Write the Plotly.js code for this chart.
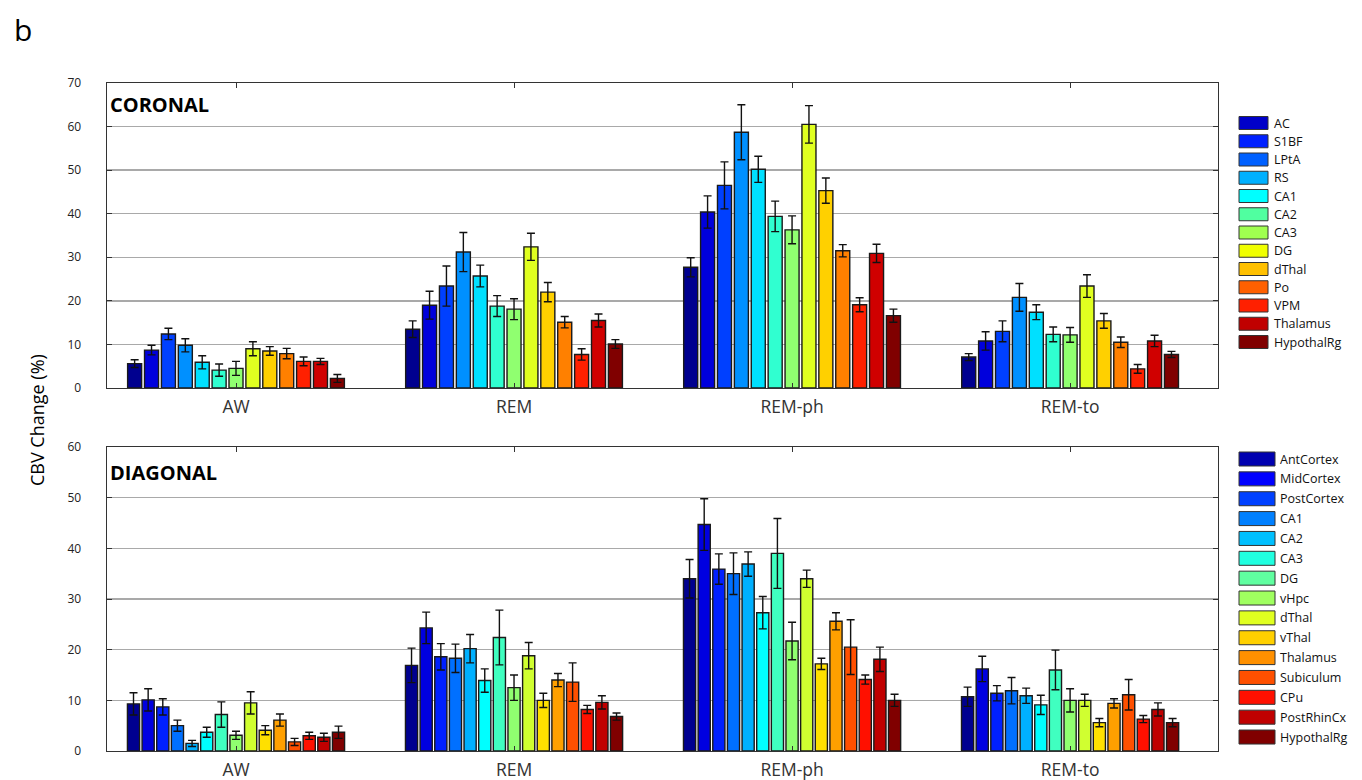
<!DOCTYPE html>
<html>
<head>
<meta charset="utf-8">
<script src="https://cdn.plot.ly/plotly-3.0.1.min.js"></script>
<style>html,body{margin:0;padding:0;background:#fff;}#chart{width:1362px;height:780px;}</style>
</head>
<body>
<div id="chart"></div>
<script>
// ---------- categories ----------
const groups = ['AW', 'REM', 'REM-ph', 'REM-to'];

// ---------- CORONAL panel ----------
const coronalRegions = ['AC','S1BF','LPtA','RS','CA1','CA2','CA3','DG','dThal','Po','VPM','Thalamus','HypothalRg'];
const cor_AW      = [5.6, 8.7, 12.4, 9.8, 5.9, 4.1, 4.5, 9.0, 8.5, 7.9, 6.1, 6.1, 2.2];
const cor_AW_err  = [0.9, 1.1, 1.3, 1.5, 1.5, 1.4, 1.6, 1.6, 1.0, 1.2, 1.0, 0.7, 0.9];
const cor_REM     = [13.5, 19.0, 23.4, 31.2, 25.7, 18.8, 18.1, 32.4, 22.0, 15.1, 7.7, 15.5, 10.1];
const cor_REM_err = [1.9, 3.2, 4.6, 4.5, 2.5, 2.4, 2.4, 3.1, 2.2, 1.3, 1.3, 1.5, 1.0];
const cor_PH      = [27.7, 40.4, 46.5, 58.7, 50.2, 39.4, 36.3, 60.5, 45.3, 31.5, 19.1, 30.9, 16.6];
const cor_PH_err  = [2.2, 3.7, 5.4, 6.3, 3.0, 3.5, 3.2, 4.3, 2.9, 1.4, 1.6, 2.1, 1.5];
const cor_TO      = [7.1, 10.8, 13.0, 20.8, 17.4, 12.3, 12.2, 23.4, 15.4, 10.5, 4.4, 10.8, 7.7];
const cor_TO_err  = [0.8, 2.1, 2.4, 3.2, 1.7, 1.7, 1.7, 2.6, 1.7, 1.2, 1.0, 1.3, 0.7];

// ---------- DIAGONAL panel ----------
const diagonalRegions = ['AntCortex','MidCortex','PostCortex','CA1','CA2','CA3','DG','vHpc','dThal','vThal','Thalamus','Subiculum','CPu','PostRhinCx','HypothalRg'];
const dia_AW      = [9.3, 10.1, 8.7, 5.0, 1.5, 3.7, 7.2, 3.1, 9.5, 4.1, 6.1, 1.8, 3.0, 2.7, 3.7];
const dia_AW_err  = [2.2, 2.2, 1.6, 1.1, 0.6, 1.0, 2.5, 0.8, 2.2, 0.9, 1.2, 0.7, 0.7, 0.8, 1.2];
const dia_REM     = [16.9, 24.3, 18.6, 18.3, 20.2, 13.9, 22.4, 12.5, 18.8, 10.0, 14.0, 13.6, 8.2, 9.6, 6.8];
const dia_REM_err = [3.4, 3.1, 2.6, 2.8, 2.8, 2.3, 5.4, 2.5, 2.6, 1.4, 1.3, 3.8, 0.8, 1.3, 0.7];
const dia_PH      = [34.0, 44.7, 35.9, 35.0, 36.9, 27.3, 39.0, 21.7, 34.0, 17.2, 25.6, 20.5, 14.1, 18.1, 10.0];
const dia_PH_err  = [3.8, 5.1, 3.0, 4.1, 2.4, 3.2, 6.9, 3.7, 1.7, 1.1, 1.7, 5.4, 0.9, 2.4, 1.2];
const dia_TO      = [10.7, 16.2, 11.4, 11.9, 10.9, 9.1, 16.0, 10.0, 10.0, 5.6, 9.4, 11.1, 6.3, 8.2, 5.6];
const dia_TO_err  = [1.9, 2.5, 1.5, 2.6, 1.5, 1.9, 3.9, 2.3, 1.2, 0.8, 0.9, 3.0, 0.7, 1.3, 0.8];

// ---------- styles ----------
const corBarColors = ['#00008f','#0000dc','#0040ff','#0090ff','#00e0ff','#30ffd0','#90ff70','#e0ff20','#ffd000','#ff8000','#ff2000','#d00000','#800000'];
const corLegColors = ['#0000c8','#0020ff','#0060ff','#00b0ff','#00ffff','#50ffa0','#a0ff50','#f0ff00','#ffc000','#ff6000','#ff2000','#c00000','#800000'];
const diaBarColors = ['#000090','#0000e0','#0020ff','#0070ff','#00b0ff','#00ffff','#40ffc0','#90ff70','#d0ff30','#ffe000','#ffa000','#ff5000','#ff1000','#c00000','#800000'];
const diaLegColors = ['#0000b0','#0000ff','#0040ff','#0080ff','#00c0ff','#20ffe0','#60ffa0','#a0ff60','#e0ff20','#ffd000','#ff9000','#ff5000','#ff1000','#c00000','#800000'];

const FONT = 'Open Sans, Lato, sans-serif';
const traces = [];

function addPanel(regions, series, errs, colors, xa, ya) {
  regions.forEach((name, i) => {
    traces.push({
      type: 'bar',
      name: name,
      x: groups,
      y: series.map(s => s[i]),
      xaxis: xa, yaxis: ya,
      showlegend: false,
      marker: {color: colors[i], line: {color: '#1a1a1a', width: 1.4}},
      error_y: {type: 'data', array: errs.map(e => e[i]), color: '#111', thickness: 1.4, width: 4},
      hoverinfo: 'name+y'
    });
  });
}
addPanel(coronalRegions, [cor_AW, cor_REM, cor_PH, cor_TO], [cor_AW_err, cor_REM_err, cor_PH_err, cor_TO_err], corBarColors, 'x', 'y');
addPanel(diagonalRegions, [dia_AW, dia_REM, dia_PH, dia_TO], [dia_AW_err, dia_REM_err, dia_PH_err, dia_TO_err], diaBarColors, 'x2', 'y2');

// ---------- layout ----------
const W = 1362, H = 780;
const mL = 107, mR = 144, mT = 83, mB = 29;
const plotW = W - mL - mR, plotH = H - mT - mB;
const px2x = p => (p - mL) / plotW;
const py2y = p => (H - mB - p) / plotH;

const xCommon = {
  type: 'category', range: [-0.464, 3.532], showline: true, linecolor: '#333', linewidth: 1.4,
  mirror: 'ticks', ticks: 'inside', ticklen: 5, tickcolor: '#333', showgrid: false,
  tickfont: {family: FONT, size: 17.5, color: '#333'}, ticklabelstandoff: 3, fixedrange: true, zeroline: false
};
const yCommon = {
  showline: true, linecolor: '#333', linewidth: 1.4, mirror: 'ticks', ticks: 'inside', ticklen: 5,
  tickcolor: '#333', showgrid: true, gridcolor: '#a9a9a9', gridwidth: 1.3, zeroline: false,
  tickfont: {family: FONT, size: 12, color: '#222'}, ticklabelstandoff: 22, fixedrange: true
};

const shapes = [], annotations = [];

function addLegend(regions, colors, x0, y0, step, bw, bh, tx) {
  regions.forEach((name, i) => {
    const cy = y0 + i * step;
    shapes.push({type: 'rect', xref: 'paper', yref: 'paper',
      x0: px2x(x0), x1: px2x(x0 + bw), y0: py2y(cy + bh / 2), y1: py2y(cy - bh / 2),
      fillcolor: colors[i], line: {color: '#333', width: 1}});
    annotations.push({xref: 'paper', yref: 'paper', x: px2x(tx), y: py2y(cy), xanchor: 'left', yanchor: 'middle',
      text: name, showarrow: false, font: {family: FONT, size: 12.5, color: '#111'}});
  });
}
addLegend(coronalRegions, corLegColors, 1239, 123, 18.25, 29, 13, 1272);
addLegend(diagonalRegions, diaLegColors, 1239, 459, 19.86, 36, 14, 1278);

annotations.push({xref: 'paper', yref: 'paper', x: px2x(108), y: py2y(104), xanchor: 'left', yanchor: 'middle',
  text: '<b>CORONAL</b>', showarrow: false, font: {family: FONT, size: 20, color: '#000'}});
annotations.push({xref: 'paper', yref: 'paper', x: px2x(108), y: py2y(472), xanchor: 'left', yanchor: 'middle',
  text: '<b>DIAGONAL</b>', showarrow: false, font: {family: FONT, size: 20, color: '#000'}});
annotations.push({xref: 'paper', yref: 'paper', x: px2x(12), y: py2y(30), xanchor: 'left', yanchor: 'middle',
  text: 'b', showarrow: false, font: {family: FONT, size: 30, color: '#000'}});
annotations.push({xref: 'paper', yref: 'paper', x: px2x(37), y: py2y(420), xanchor: 'center', yanchor: 'middle',
  text: 'CBV Change (%)', textangle: -90, showarrow: false, font: {family: FONT, size: 18, color: '#000'}});

const layout = {
  width: W, height: H, margin: {l: mL, r: mR, t: mT, b: mB},
  paper_bgcolor: '#fff', plot_bgcolor: '#fff',
  barmode: 'group', bargap: 0.21, bargroupgap: 0.17,
  showlegend: false,
  xaxis: Object.assign({}, xCommon, {anchor: 'y', domain: [0, 1]}),
  yaxis: Object.assign({}, yCommon, {anchor: 'x', domain: [py2y(388), 1], range: [0, 70], tickvals: [0,10,20,30,40,50,60,70]}),
  xaxis2: Object.assign({}, xCommon, {anchor: 'y2', domain: [0, 1]}),
  yaxis2: Object.assign({}, yCommon, {anchor: 'x2', domain: [0, py2y(447)], range: [0, 60], tickvals: [0,10,20,30,40,50,60]}),
  shapes: shapes, annotations: annotations,
  font: {family: FONT}
};

Plotly.newPlot('chart', traces, layout, {staticPlot: true, displayModeBar: false});
</script>
</body>
</html>
